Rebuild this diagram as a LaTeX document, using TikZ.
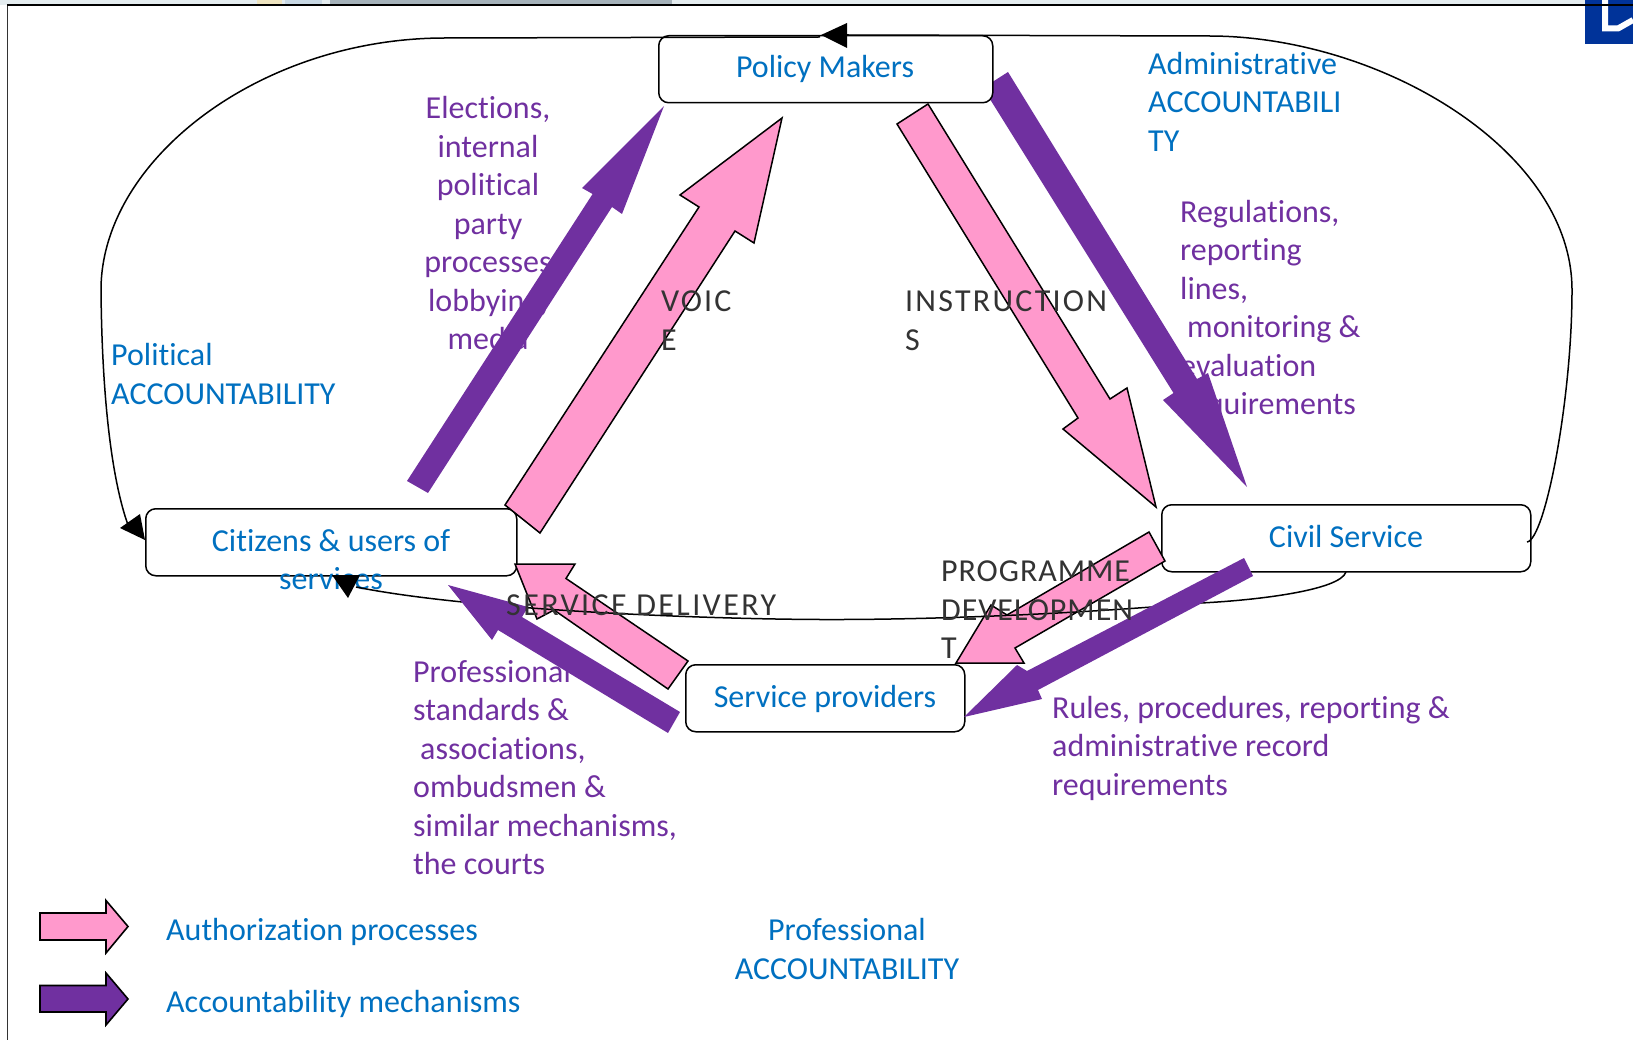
\documentclass[tikz,border=0pt]{standalone}
\usepackage{fontspec}
\setmainfont{Carlito}[Ligatures=NoCommon,Contextuals=NoAlternate]
\definecolor{pinkar}{HTML}{FF99CC}
\definecolor{purplear}{HTML}{7030A0}
\definecolor{bluetx}{HTML}{0070C0}
\definecolor{darktx}{HTML}{333333}
\definecolor{bluebk}{HTML}{003399}
\definecolor{stripbase}{HTML}{E4ECEF}
\definecolor{stripyel}{HTML}{EEE4C0}
\definecolor{stripblu}{HTML}{C8D8E4}
\definecolor{stripgry}{HTML}{A5B2BA}
\tikzset{
  lab/.style={inner sep=0pt,font=\fontsize{32}{38.5}\selectfont},
  bl/.style={lab,text=bluetx},
  pu/.style={lab,text=purplear},
  dk/.style={lab,text=darktx},
  actor/.style={draw=black,line width=1.5pt,fill=white,rounded corners=10pt},
  pinkarrow/.style={draw=black,line width=1.5pt,fill=pinkar,line join=miter},
  purplearrow/.style={fill=purplear},
  curveline/.style={draw=black,line width=1.5pt},
  headtip/.style={fill=black},
}
\newcommand{\lsp}[1]{\addfontfeature{LetterSpace=#1}}
\begin{document}
\begin{tikzpicture}[x=1pt,y=-1pt]
\useasboundingbox (0,0) rectangle (1633,1040);
% screen remnants
\fill[stripbase] (0,0) rectangle (1633,5);
\fill[stripyel] (257,0) rectangle (282,5);
\fill[stripblu] (285,0) rectangle (322,5);
\fill[stripgry] (330,0) rectangle (672,5);
\fill[bluebk] (1585,0) rectangle (1633,44);
\draw[white,line width=6pt] (1605,0) -- (1605,28.5) -- (1618,28.5) -- (1633,20);
\draw[line width=1.3pt,black!80] (7.5,1040) -- (7.5,5.5);
\draw[line width=2pt] (7,5.5) -- (1633,5.5);
% labels under arrows
\node[pu,align=center,anchor=north] (elect) at (488,96.5) {Elections,\\internal\\political\\party\\\hspace*{8pt}processes,\\lobbying,\\media};
\node[pu,align=left,anchor=north west] (regs) at (1180,200) {Regulations,\\reporting\\lines,\\\hspace*{7pt}monitoring \&\\evaluation\\requirements};
\node[pu,align=left,anchor=north west] (prof) at (413,660) {Professional\\standards \&\\\hspace*{7pt}associations,\\ombudsmen \&\\similar mechanisms,\\the courts};
\node[pu,align=left,anchor=north west] (rules) at (1052,696) {Rules, procedures, reporting \&\\administrative record\\requirements};
\node[bl,align=left,anchor=north west] (polit) at (111,343.5) {Political\\ACCOUNTABILITY};
\node[bl,align=left,anchor=north west] (admin) at (1148,52) {Administrative\\ACCOUNTABILI\\TY};
\node[bl,align=center,anchor=north] (profa) at (847,918.5) {Professional\\ACCOUNTABILITY};
\node[bl,anchor=north west] (auth) at (166,918.5) {Authorization processes};
\node[bl,anchor=north west] (acc) at (166,990.5) {Accountability mechanisms};
% named anchors for the curves
\coordinate (civilR) at (1527,542);
\coordinate (civilB) at (1346,572);
\coordinate (policyT) at (821,35);
\coordinate (citL) at (145,540);
\coordinate (citB) at (348,598);
% arrows hidden by the boxes
\fill[purplear] (407,481) -- (592.6,194) -- (582,188) -- (664,106) -- (622,214) -- (612,207) -- (428,493) -- cycle;
\fill[purplear] (1008,72) -- (983,88) -- (1173.5,393) -- (1163,400) -- (1247,487) -- (1208,373) -- (1197,379) -- cycle;
% actors
\node[actor,minimum width=334pt,minimum height=67pt,anchor=north west] (policy) at (658,35) {};
\node[actor,minimum width=371pt,minimum height=67pt,anchor=north west] (citizens) at (145,508) {};
\node[actor,minimum width=279pt,minimum height=67pt,anchor=north west] (providers) at (685,664) {};
\node[actor,minimum width=369pt,minimum height=67pt,anchor=north west] (civil) at (1161,504) {};
\node[bl,anchor=center] (policytx) at (825,69) {Policy Makers};
\node[bl,align=center,anchor=north] (citizenstx) at (331,529) {Citizens \& users of\\services};
\node[bl] (providerstx) at (825,699) {Service providers};
\node[bl] (civiltx) at (1346,536) {Civil Service};
% pink arrows lie over the box corners
\draw[pinkarrow] (505,505) -- (699,207) -- (680,195) -- (782,118) -- (754,243) -- (735,231) -- (540,533) -- cycle;
\draw[pinkarrow] (928,104) -- (897,124) -- (1078,418) -- (1063,429) -- (1156,507) -- (1127,388) -- (1110,399) -- cycle;
\draw[pinkarrow] (515,564) -- (575,564) -- (566,578.5) -- (688,661) -- (668,689) -- (554,610) -- (537,619) -- cycle;
\draw[pinkarrow] (1149,532) -- (1165,561) -- (1015,648) -- (1024,663) -- (956,663) -- (991,605) -- (1007,615) -- cycle;
% curves
\draw[curveline] (civilR) .. controls (1545,540) and (1572,400) .. (1572,290) .. controls (1572,150) and (1380,36) .. (1209,36) -- (847,35);
\draw[curveline] (820,37) -- (445,38) .. controls (260,38) and (101,160) .. (101,290) .. controls (102,400) and (112,480) .. (128,525);
\draw[curveline] (civilB) .. controls (1340,590) and (1260,600) .. (1201,603) .. controls (1100,612) and (950,620) .. (820,619.5) .. controls (700,619) and (470,610) .. (356,587);
\fill[headtip] (policyT) -- (847,23) -- (847,48) -- cycle;
\fill[headtip] (citL) -- (140,514) -- (120,528) -- cycle;
\fill[headtip] (citB) -- (332,575) -- (360,575) -- cycle;
% purple arrows over the curve
\fill[purplear] (448,585) -- (492,640) -- (498,630) -- (668,733) -- (680,712) -- (522,617) -- (528,607) -- cycle;
\fill[purplear] (1244,558) -- (1253,576) -- (1038,690) -- (1042,699) -- (964,717) -- (1017,665) -- (1027,671) -- cycle;
% dark labels
\node[dk,align=left,anchor=north west,font=\fontsize{32}{38.5}\selectfont\lsp{6.5}] (voice) at (661,291) {VOIC\\E};
\node[dk,align=left,anchor=north west,font=\fontsize{32}{38.5}\selectfont\lsp{7}] (instr) at (905,291) {INSTRUCTION\\S};
\node[dk,anchor=north west,font=\fontsize{32}{38.5}\selectfont\lsp{7.5}] (sdel) at (506,595) {SERVICE DELIVERY};
\node[dk,align=left,anchor=north west,font=\fontsize{32}{38.5}\selectfont\lsp{3}] (prog) at (941,561) {PROGRAMME\\DEVELOPMEN\\T};
% legend
\draw[pinkarrow,line width=1.6pt] (40,913) -- (106,913) -- (106,900.5) -- (128,926.5) -- (106,953) -- (106,940) -- (40,940) -- cycle;
\draw[black,fill=purplear,line width=1.6pt] (40,985.5) -- (106,985.5) -- (106,973) -- (128,999) -- (106,1025) -- (106,1012) -- (40,1012) -- cycle;
\end{tikzpicture}
\end{document}
